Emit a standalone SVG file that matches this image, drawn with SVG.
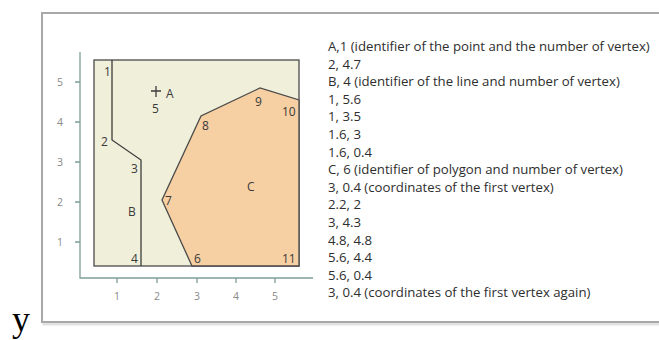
<svg xmlns="http://www.w3.org/2000/svg" width="659" height="340" viewBox="0 0 659 340">
<defs>
<style>
.axis{stroke:#7f9e98;stroke-width:1.3;fill:none}
.tick{fill:#8a8a8a;font-family:"Open Sans","Liberation Sans",Arial,sans-serif;font-size:10.5px;text-anchor:middle}
.lbl{fill:#3a3a3a;font-family:"Open Sans","Liberation Sans",Arial,sans-serif;font-size:12px}
.txt{fill:#2e2e2e;font-family:"Open Sans","Liberation Sans",Arial,sans-serif;font-size:13.2px}
.edge{stroke:#3d3d3d;stroke-width:1.3;fill:none;stroke-linejoin:miter}
</style>
</defs>
<rect x="0" y="0" width="659" height="340" fill="#fff"/>
<!-- frame -->
<g id="frame">
<rect x="44" y="15" width="640" height="309" fill="none" stroke="#e2e2e2" stroke-width="3"/>
<rect x="42" y="13" width="640" height="309" fill="#fff" stroke="#a8a8a8" stroke-width="2"/>
</g>
<!-- axes -->
<g id="axes">
<path class="axis" d="M80,52V278H313"/>
<path class="axis" d="M75,82H80M75,122H80M75,162H80M75,202H80M75,242H80"/>
<path class="axis" d="M117,278V283M157,278V283M197,278V283M236,278V283M275,278V283"/>
<text class="tick" x="60" y="86">5</text>
<text class="tick" x="60" y="126">4</text>
<text class="tick" x="60" y="166">3</text>
<text class="tick" x="60" y="206">2</text>
<text class="tick" x="60" y="246">1</text>
<text class="tick" x="117" y="300">1</text>
<text class="tick" x="157" y="300">2</text>
<text class="tick" x="197" y="300">3</text>
<text class="tick" x="236" y="300">4</text>
<text class="tick" x="275" y="300">5</text>
</g>
<!-- area rectangle -->
<g id="area">
<rect x="94" y="60" width="205" height="206" fill="#efefda" stroke="#4a4a4a" stroke-width="1.3"/>
</g>
<!-- polygon C -->
<g id="polygonC">
<polygon points="192,266 162,200 201,116 260,88 299,100 299,266" fill="#f6cfa2" stroke="#4a4a4a" stroke-width="1.3"/>
<text class="lbl" x="247" y="191">C</text>
<text class="lbl" x="194" y="263">6</text>
<text class="lbl" x="165" y="205">7</text>
<text class="lbl" x="202" y="130">8</text>
<text class="lbl" x="255" y="106">9</text>
<text class="lbl" x="282" y="116">10</text>
<text class="lbl" x="282" y="263">11</text>
</g>
<!-- line B -->
<g id="lineB">
<polyline class="edge" points="112,60 112,140 141,160 141,266"/>
<text class="lbl" x="104" y="76">1</text>
<text class="lbl" x="101" y="146">2</text>
<text class="lbl" x="131" y="173">3</text>
<text class="lbl" x="128" y="216">B</text>
<text class="lbl" x="131" y="263">4</text>
</g>
<!-- point A -->
<g id="pointA">
<path d="M151,91H161M156,86V97" stroke="#3d3d3d" stroke-width="1.3"/>
<text class="lbl" x="166" y="98">A</text>
<text class="lbl" x="152" y="113">5</text>
</g>
<!-- listing -->
<g id="listing">
<text class="txt" x="328" y="51">A,1 (identifier of the point and the number of vertex)</text>
<text class="txt" x="328" y="68.6">2, 4.7</text>
<text class="txt" x="328" y="86.2">B, 4 (identifier of the line and number of vertex)</text>
<text class="txt" x="328" y="103.8">1, 5.6</text>
<text class="txt" x="328" y="121.4">1, 3.5</text>
<text class="txt" x="328" y="139">1.6, 3</text>
<text class="txt" x="328" y="156.6">1.6, 0.4</text>
<text class="txt" x="328" y="174.2">C, 6 (identifier of polygon and number of vertex)</text>
<text class="txt" x="328" y="191.8">3, 0.4 (coordinates of the first vertex)</text>
<text class="txt" x="328" y="209.4">2.2, 2</text>
<text class="txt" x="328" y="227">3, 4.3</text>
<text class="txt" x="328" y="244.6">4.8, 4.8</text>
<text class="txt" x="328" y="262.2">5.6, 4.4</text>
<text class="txt" x="328" y="279.8">5.6, 0.4</text>
<text class="txt" x="328" y="297.4">3, 0.4 (coordinates of the first vertex again)</text>
</g>
<text x="12" y="331" font-family="'Liberation Serif','Times New Roman',serif" font-size="36" fill="#000">y</text>
</svg>
